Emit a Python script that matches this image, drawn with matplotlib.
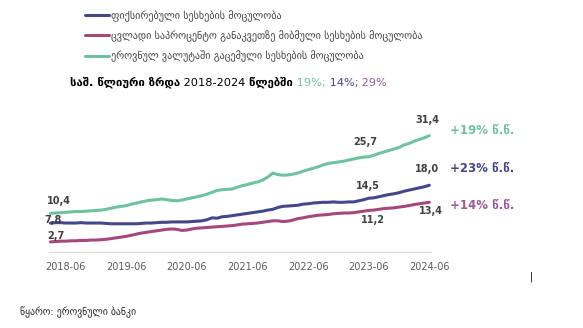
import numpy as np
import matplotlib.pyplot as plt

plt.rcParams['font.family'] = ['DejaVu Sans']

# monthly data, 2018-03 .. 2024-06 (billion GEL)
fixed = [7.8, 7.9, 7.9, 7.8, 7.8, 7.8, 7.9, 7.8, 7.8, 7.8,
         7.8, 7.7, 7.6, 7.6, 7.6, 7.6, 7.6, 7.6, 7.7, 7.8,
         7.8, 7.9, 8.0, 8.0, 8.1, 8.1, 8.1, 8.1, 8.2, 8.3,
         8.4, 8.7, 9.2, 9.1, 9.5, 9.6, 9.8, 10.0, 10.2, 10.4,
         10.6, 10.8, 11.0, 11.3, 11.5, 12.0, 12.3, 12.4, 12.5, 12.6,
         12.9, 13.0, 13.2, 13.3, 13.4, 13.4, 13.5, 13.4, 13.4, 13.5,
         13.5, 13.8, 14.1, 14.5, 14.6, 14.9, 15.2, 15.5, 15.7, 16.0,
         16.4, 16.7, 17.0, 17.3, 17.6, 18.0]
floating = [2.7, 2.8, 2.9, 2.9, 3.0, 3.0, 3.1, 3.1, 3.2, 3.2,
            3.3, 3.4, 3.6, 3.8, 4.0, 4.2, 4.5, 4.8, 5.1, 5.3,
            5.5, 5.7, 5.9, 6.1, 6.2, 6.1, 5.8, 5.9, 6.2, 6.4,
            6.5, 6.6, 6.7, 6.8, 6.9, 7.0, 7.1, 7.3, 7.5, 7.6,
            7.7, 7.8, 8.0, 8.2, 8.4, 8.4, 8.2, 8.3, 8.6, 9.0,
            9.2, 9.5, 9.7, 9.9, 10.0, 10.1, 10.3, 10.4, 10.5, 10.5,
            10.6, 10.8, 11.0, 11.2, 11.3, 11.5, 11.7, 11.8, 11.9, 12.1,
            12.3, 12.5, 12.8, 13.0, 13.2, 13.4]
gel = [10.4, 10.5, 10.6, 10.7, 10.8, 10.9, 10.9, 11.0, 11.1, 11.2,
       11.3, 11.5, 11.8, 12.1, 12.3, 12.5, 12.9, 13.2, 13.5, 13.8,
       14.0, 14.1, 14.3, 14.1, 13.9, 13.8, 14.0, 14.3, 14.6, 14.9,
       15.2, 15.6, 16.1, 16.6, 16.8, 16.9, 17.0, 17.5, 17.9, 18.2,
       18.6, 18.9, 19.4, 20.2, 21.3, 20.9, 20.7, 20.8, 21.0, 21.3,
       21.8, 22.2, 22.6, 23.0, 23.5, 23.9, 24.1, 24.3, 24.5, 24.8,
       25.1, 25.4, 25.6, 25.7, 26.1, 26.6, 27.0, 27.4, 27.8, 28.2,
       28.9, 29.3, 29.9, 30.4, 30.8, 31.4]

tick_pos = [3, 15, 27, 39, 51, 63, 75]
tick_labels = ['2018-06', '2019-06', '2020-06', '2021-06', '2022-06', '2023-06', '2024-06']
labels = ['ფიქსირებული სესხების მოცულობა',
          'ცვლადი საპროცენტო განაკვეთზე მიბმული სესხების მოცულობა',
          'ეროვნულ ვალუტაში გაცემული სესხების მოცულობა']
growth = ['+23% წ.წ.', '+14% წ.წ.', '+19% წ.წ.']

c_navy = '#46468a'
c_pink = '#a4487e'
c_green = '#6fc29f'
c_violet = '#9b5c9c'
c_text = '#404040'

fig = plt.figure(figsize=(5.83, 3.28), dpi=100)
ax = fig.add_axes([0.084, 0.232, 0.655, 0.395])

x = np.arange(len(gel))
series = [fixed, floating, gel]
colors = [c_navy, c_pink, c_green]
for s, c, lab in zip(series, colors, labels):
    ax.plot(x, s, color=c, lw=2.2, label=lab, solid_capstyle='round')

ax.set_xlim(-0.3, 75.3)
ax.set_ylim(0, 35)
ax.set_xticks(tick_pos)
ax.set_xticklabels(tick_labels, fontsize=7, color='#595959')
ax.tick_params(length=0, pad=7)
ax.set_yticks([])
for sp in ['top', 'right', 'left']:
    ax.spines[sp].set_visible(False)
ax.spines['bottom'].set_color('#d9d9d9')

# data labels
offsets = {
    0: [(3, 3), (5, 6), (8, 12)],
    63: [(-1, 12), (4, -10), (-3, 15)],
    75: [(-2, 16), (2, -9), (-2, 16)],
}
for i, offs in offsets.items():
    for s, off in zip(series, offs):
        ax.annotate(f'{s[i]:.1f}'.replace('.', ','), (x[i], s[i]),
                    xytext=off, textcoords='offset pixels',
                    ha='center', va='center', fontsize=7,
                    fontweight='bold', color=c_text)

# growth labels at the right
for s, g, c, dy in zip(series, growth, [c_navy, c_violet, c_green], [17, -3, 5]):
    ax.annotate(g, (x[-1], s[-1]), xytext=(21, dy),
                textcoords='offset pixels', ha='left', va='center',
                fontsize=8.5, fontweight='bold', color=c,
                annotation_clip=False)

# legend
handles, labs = ax.get_legend_handles_labels()
fig.legend(handles, labs,
           loc='upper left', bbox_to_anchor=(76 / 583, 1 - 1 / 328),
           frameon=False, fontsize=7.3, handlelength=2.4, handletextpad=0.2,
           labelspacing=0.85, labelcolor=c_text)

# title with coloured pieces, each placed right after the previous one
t = fig.text(70 / 583, 1 - 82 / 328, 'საშ. წლიური ზრდა',
             fontsize=8.2, fontweight='bold', va='center', ha='left')
pieces = [(' 2018-2024', 'black', 'normal'), (' წლებში', 'black', 'bold'),
          (' 19%;', c_green, 'normal'), (' 14%;', c_navy, 'normal'),
          (' 29%', c_violet, 'normal')]
for piece, c, w in pieces:
    t = ax.annotate(piece, xy=(1, 0), xycoords=t, va='bottom', ha='left',
                    fontsize=8.2, color=c, fontweight=w, annotation_clip=False)

fig.text(20 / 583, 1 - 312 / 328, 'წყარო: ეროვნული ბანკი', fontsize=7,
         va='center', ha='left', color='#202020')
fig.text(531 / 583, 1 - 277 / 328, '|', fontsize=7, va='center', ha='center')

fig.savefig('out.png', dpi=100)
